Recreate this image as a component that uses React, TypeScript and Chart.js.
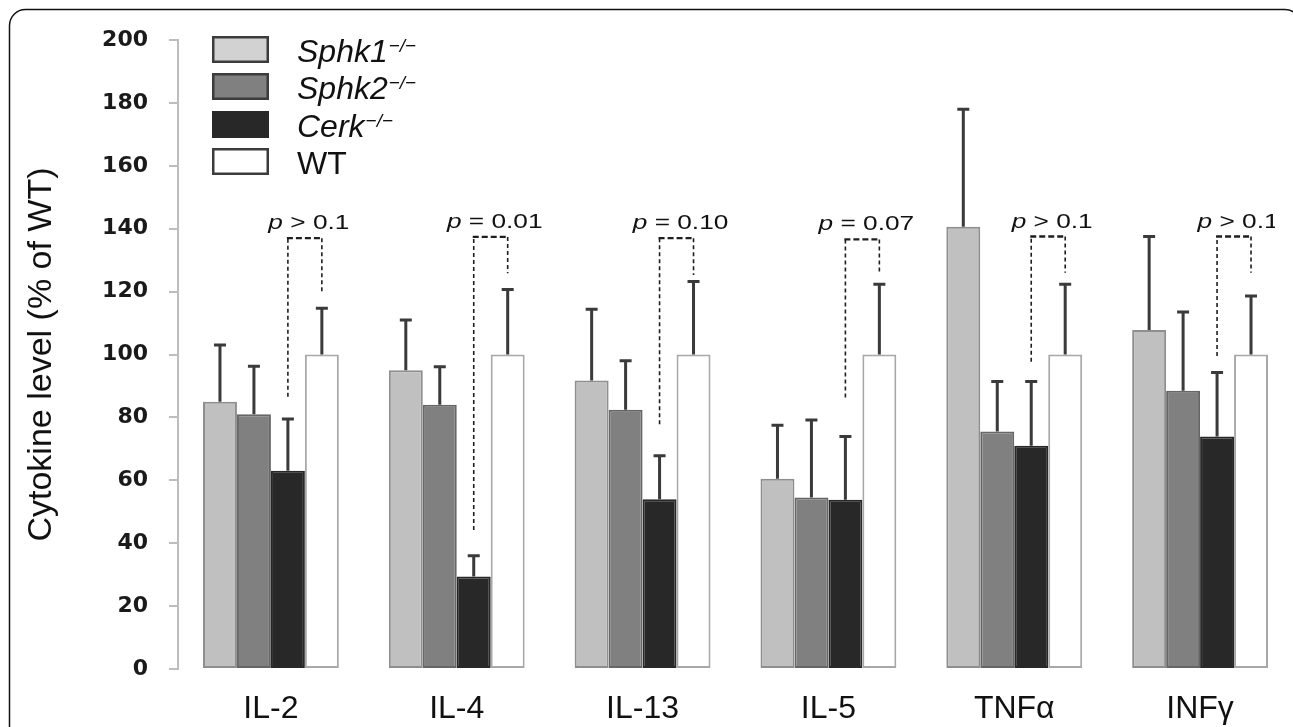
import React, { useEffect, useRef } from 'react';
import { Chart, registerables } from 'chart.js';

Chart.register(...registerables);

// ---------- data ----------
const categories = ['IL-2', 'IL-4', 'IL-13', 'IL-5', 'TNFα', 'INFγ'];

const seriesNames = ['Sphk1', 'Sphk2', 'Cerk', 'WT'];
const seriesSup = ['−/−', '−/−', '−/−', ''];
const seriesItalic = [true, true, true, false];

const sphk1Values = [85, 95, 91.7, 60.5, 140.6, 107.8];
const sphk1Errors = [18, 16, 22.7, 17, 37.4, 29.7];
const sphk2Values = [81, 84, 82.4, 54.5, 75.5, 88.5];
const sphk2Errors = [15.3, 12.1, 15.6, 24.7, 15.9, 25];
const cerkValues = [63, 29.4, 54, 53.8, 71, 73.9];
const cerkErrors = [16.5, 6.6, 13.8, 20.1, 20.4, 20.4];
const wtValues = [100, 100, 100, 100, 100, 100];
const wtErrors = [14.7, 20.7, 23.2, 22.3, 22.3, 18.6];

const pRelations = ['> 0.1', '= 0.01', '= 0.10', '= 0.07', '> 0.1', '> 0.1'];
const bracketTop = [137, 137.4, 137, 136.6, 137.5, 137.5];
const bracketCerkEnd = [86.6, 44.2, 77.8, 86.3, 97.7, 99.5];
const bracketWtEnd = [119.4, 125.8, 125.3, 125.5, 126, 126];

const yMin = 0;
const yMax = 200;
const yStep = 20;
const yTitle = 'Cytokine level (% of WT)';

// ---------- styles ----------
const fills = ['#c0c0c0', '#808080', '#282828', '#ffffff'];
const borders = ['#8e8e8e', '#666666', '#282828', '#a8a8a8'];
const legendBorders = ['#3c3c3c', '#3c3c3c', '#282828', '#3c3c3c'];
const SANS = '"Liberation Sans", Arial, Helvetica, sans-serif';

const allValues = [sphk1Values, sphk2Values, cerkValues, wtValues];
const allErrors = [sphk1Errors, sphk2Errors, cerkErrors, wtErrors];

const framePlugin = {
  id: 'frame',
  beforeDraw(chart: any) {
    const ctx = chart.ctx;
    const r = 16;
    const l = 9.5, t = 9.5, rt = 1301, b = 760;
    ctx.save();
    ctx.strokeStyle = '#111';
    ctx.lineWidth = 1.5;
    ctx.beginPath();
    ctx.moveTo(l, b);
    ctx.lineTo(l, t + r);
    ctx.arcTo(l, t, l + r, t, r);
    ctx.lineTo(rt - r, t);
    ctx.arcTo(rt, t, rt, t + r, r);
    ctx.lineTo(rt, b);
    ctx.stroke();
    ctx.restore();
  },
};

const overlayPlugin = {
  id: 'overlay',
  afterDatasetsDraw(chart: any) {
    const ctx = chart.ctx;
    const y = chart.scales.y;
    ctx.save();
    // error bars
    ctx.strokeStyle = '#3a3a3a';
    ctx.lineWidth = 3;
    for (let d = 0; d < allValues.length; d++) {
      const meta = chart.getDatasetMeta(d);
      meta.data.forEach((bar: any, i: number) => {
        const x = bar.x;
        const y0 = y.getPixelForValue(allValues[d][i]);
        const y1 = y.getPixelForValue(allValues[d][i] + allErrors[d][i]);
        ctx.beginPath();
        ctx.moveTo(x, y0);
        ctx.lineTo(x, y1);
        ctx.moveTo(x - 6, y1);
        ctx.lineTo(x + 6, y1);
        ctx.stroke();
      });
    }
    // brackets
    const cerkMeta = chart.getDatasetMeta(2);
    const wtMeta = chart.getDatasetMeta(3);
    ctx.strokeStyle = '#1e1e1e';
    for (let i = 0; i < categories.length; i++) {
      const xl = cerkMeta.data[i].x;
      const xr = wtMeta.data[i].x;
      const yt = y.getPixelForValue(bracketTop[i]);
      const yl = y.getPixelForValue(bracketCerkEnd[i]);
      const yr = y.getPixelForValue(bracketWtEnd[i]);
      ctx.lineWidth = 1.6;
      ctx.setLineDash([4, 3]);
      ctx.beginPath();
      ctx.moveTo(xl, yl);
      ctx.lineTo(xl, yt);
      ctx.moveTo(xr, yt);
      ctx.lineTo(xr, yr);
      ctx.stroke();
      ctx.lineWidth = 2.4;
      ctx.setLineDash([6, 3]);
      ctx.beginPath();
      ctx.moveTo(xl - 1, yt);
      ctx.lineTo(xr + 1, yt);
      ctx.stroke();
      ctx.setLineDash([]);

      // p label (figure panel is clipped at the right)
      const sx = 1.25;
      ctx.save();
      ctx.beginPath();
      ctx.rect(0, 0, 1275, chart.height);
      ctx.clip();
      ctx.fillStyle = '#111';
      ctx.font = `italic 21px ${SANS}`;
      const wp = ctx.measureText('p').width;
      ctx.font = `21px ${SANS}`;
      const rest = ' ' + pRelations[i];
      const wr = ctx.measureText(rest).width;
      const total = (wp + wr) * sx;
      const cx = (xl + xr) / 2 + 4;
      ctx.translate(cx - total / 2, yt - 9);
      ctx.scale(sx, 1);
      ctx.textBaseline = 'alphabetic';
      ctx.textAlign = 'left';
      ctx.font = `italic 21px ${SANS}`;
      ctx.fillText('p', 0, 0);
      ctx.font = `21px ${SANS}`;
      ctx.fillText(rest, wp, 0);
      ctx.restore();
    }
    ctx.restore();
  },
  afterDraw(chart: any) {
    // legend
    const ctx = chart.ctx;
    ctx.save();
    const bx = 212, bw = 57, bh = 27;
    const rowTop = [36, 73, 111, 148];
    for (let k = 0; k < seriesNames.length; k++) {
      const by = rowTop[k];
      ctx.fillStyle = k === 0 ? '#d2d2d2' : fills[k];
      ctx.fillRect(bx, by, bw, bh);
      ctx.strokeStyle = legendBorders[k];
      ctx.lineWidth = 2.5;
      ctx.strokeRect(bx + 1.25, by + 1.25, bw - 2.5, bh - 2.5);
      const base = by + bh / 2 + 12;
      ctx.fillStyle = '#111';
      ctx.textBaseline = 'alphabetic';
      ctx.textAlign = 'left';
      ctx.font = `${seriesItalic[k] ? 'italic ' : ''}32px ${SANS}`;
      ctx.fillText(seriesNames[k], 297, base);
      const w = ctx.measureText(seriesNames[k]).width;
      if (seriesSup[k]) {
        ctx.font = `italic 19px ${SANS}`;
        ctx.fillText(seriesSup[k], 297 + w + 1, base - 10);
      }
    }
    ctx.restore();
  },
};

export default function App() {
  const canvasRef = useRef<HTMLCanvasElement | null>(null);

  useEffect(() => {
    const canvas = canvasRef.current;
    if (!canvas) return;
    const datasets = seriesNames.map((name, k) => ({
      label: name,
      data: allValues[k],
      backgroundColor: fills[k],
      borderColor: borders[k],
      borderWidth: 2,
      borderSkipped: false as any,
      categoryPercentage: 0.731,
      barPercentage: 1.0,
    }));
    const chart = new Chart(canvas, {
      type: 'bar',
      data: { labels: categories, datasets },
      options: {
        responsive: false,
        animation: false,
        layout: { padding: { top: 40, right: 0, bottom: 0, left: 0 } },
        plugins: {
          legend: { display: false },
          tooltip: { enabled: false },
        },
        scales: {
          x: {
            grid: { display: false, drawTicks: false },
            border: { display: false },
            ticks: {
              font: { family: SANS, size: 32 },
              color: '#111',
              padding: 21,
            },
            afterFit: (s: any) => {
              s.height = 58;
            },
          },
          y: {
            min: yMin,
            max: yMax,
            ticks: {
              stepSize: yStep,
              font: { family: '"DejaVu Sans", sans-serif', size: 22, weight: 'bold' },
              color: '#1a1a1a',
              padding: 21,
            },
            grid: {
              drawOnChartArea: false,
              drawTicks: true,
              tickLength: 9,
              color: '#bdbdbd',
              lineWidth: 2,
            },
            border: { display: true, color: '#bdbdbd', width: 2 },
            title: {
              display: true,
              text: yTitle,
              font: { family: SANS, size: 34 },
              color: '#111',
              padding: { top: 21, bottom: 0 },
            },
            afterFit: (s: any) => {
              s.width = 178;
            },
          },
        },
      },
      plugins: [framePlugin, overlayPlugin],
    });
    return () => chart.destroy();
  }, []);

  return (
    <div style={{ position: 'fixed', left: 0, top: 0, width: 1293, height: 727, background: '#fff' }}>
      <canvas ref={canvasRef} width={1293} height={727} style={{ display: 'block' }} />
    </div>
  );
}
